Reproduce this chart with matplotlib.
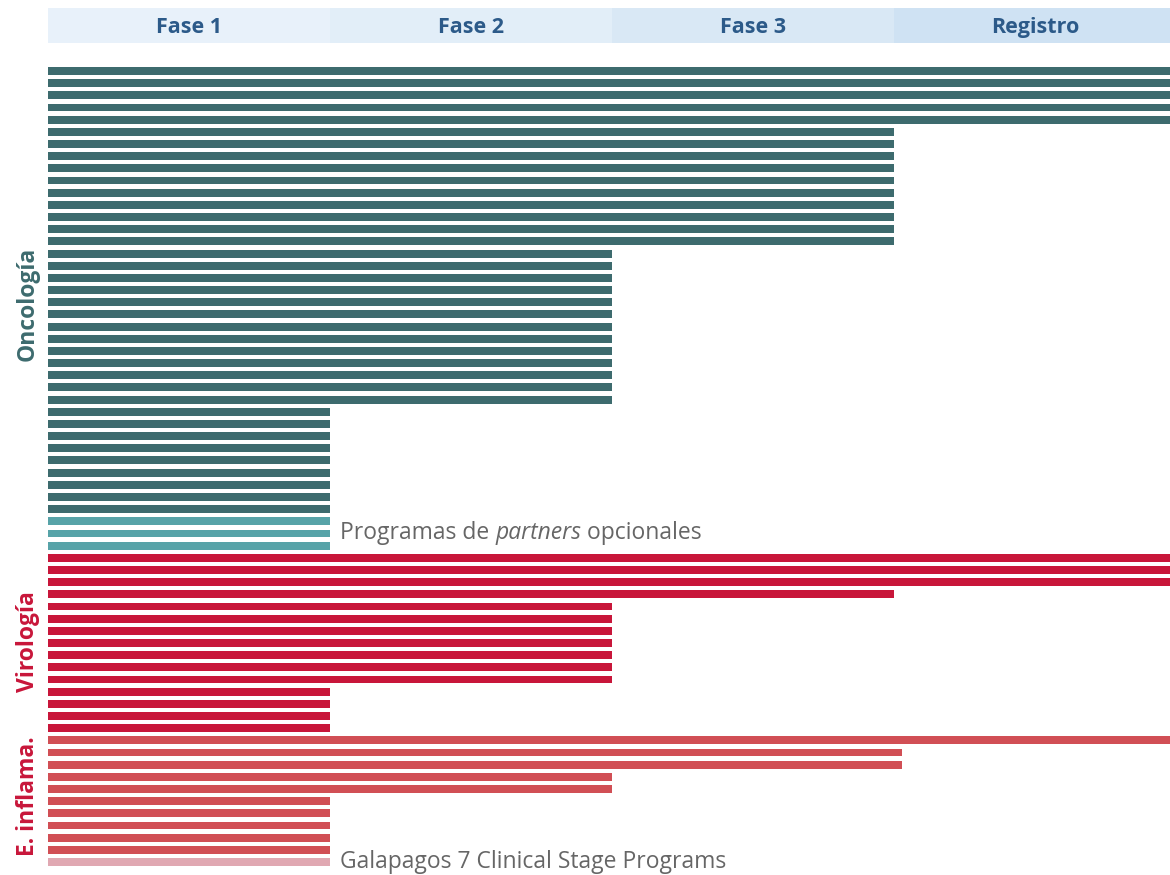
import matplotlib
matplotlib.use("Agg")
import matplotlib.pyplot as plt

# ---------------- data ----------------
phases = ["Fase 1", "Fase 2", "Fase 3", "Registro"]
phase_colors = ["#e8f1fa", "#e2eef8", "#d9e8f5", "#cfe2f3"]

# program progress (in phases) per therapeutic area, top to bottom
oncologia = [4, 4, 4, 4, 4,
             3, 3, 3, 3, 3, 3, 3, 3, 3, 3,
             2, 2, 2, 2, 2, 2, 2, 2, 2, 2, 2, 2, 2,
             1, 1, 1, 1, 1, 1, 1, 1, 1]
oncologia_partners = [1, 1, 1]
virologia = [4, 4, 4,
             3,
             2, 2, 2, 2, 2, 2, 2,
             1, 1, 1, 1]
inflamacion = [4,
               3.03, 3.03,
               2, 2,
               1, 1, 1, 1, 1]
galapagos = [1]

areas = ["Oncología", "Virología", "E. inflama."]
area_colors = ["#3d6b6e", "#c8163a", "#c8163a"]

annot_partners = ("Programas de ", "partners", " opcionales")
annot_galapagos = "Galapagos 7 Clinical Stage Programs"

# ---------------- style ----------------
FONT = "Open Sans"
col_onc = "#3d6b6e"
col_partner = "#57a3a8"
col_vir = "#c8163a"
col_inf = "#d14f55"
col_gal = "#e0a8b2"
header_text = "#2c5a89"
grey = "#666666"

W, H = 1170, 875
fig = plt.figure(figsize=(W / 100, H / 100), dpi=100)

x0 = 48
phase_w = 282
left = x0 / W
width = 4 * phase_w / W

# header axes
hax = fig.add_axes([left, (H - 43) / H, width, 35 / H])
for i, (p, c) in enumerate(zip(phases, phase_colors)):
    hax.bar(i, 1, width=1, align="edge", color=c, linewidth=0)
    hax.text(i + 0.5, 0.43, p, ha="center", va="center", color=header_text,
             fontsize=15.5, fontweight="bold", family=FONT)
hax.set_xlim(0, 4)
hax.set_ylim(0, 1)
hax.axis("off")

# main bars
series = [(oncologia, col_onc), (oncologia_partners, col_partner),
          (virologia, col_vir), (inflamacion, col_inf), (galapagos, col_gal)]
vals, cols = [], []
for s, c in series:
    vals += s
    cols += [c] * len(s)
n = len(vals)

step = 12.17
top_px = 71 - step * 0.5
bot_px = top_px + step * n
ax = fig.add_axes([left, (H - bot_px) / H, width, (bot_px - top_px) / H])
ypos = list(range(n))
ax.barh(ypos, vals, height=0.65, color=cols, linewidth=0)
ax.set_xlim(0, 4)
ax.set_ylim(n - 0.5, -0.5)
ax.axis("off")

# area labels
n_onc = len(oncologia) + len(oncologia_partners)
n_vir = len(virologia)
n_inf = len(inflamacion) + len(galapagos)
groups = [(0, n_onc), (n_onc, n_vir), (n_onc + n_vir, n_inf)]
offsets = [-0.4, -0.1, -0.4]
for (start, cnt), name, c, off in zip(groups, areas, area_colors, offsets):
    yc = start + (cnt - 1) / 2 + off
    ax.text(-20 / phase_w, yc, name, rotation=90, ha="center", va="center",
            color=c, fontsize=16.5, fontweight="bold", family=FONT,
            clip_on=False)

# annotations
tx = 1 + 10 / phase_w
ya = len(oncologia) + 1.0
fs = 16.5
t1 = ax.text(tx, ya, annot_partners[0], ha="left", va="center", color=grey,
             fontsize=fs, family=FONT)
t2 = ax.annotate(annot_partners[1], xy=(1, 0), xycoords=t1, ha="left",
                 va="bottom", color=grey, fontsize=fs, family=FONT,
                 style="italic")
ax.annotate(annot_partners[2], xy=(1, 0), xycoords=t2, ha="left",
            va="bottom", color=grey, fontsize=fs, family=FONT)

ax.text(tx, n - 1 + 0.02, annot_galapagos, ha="left", va="center",
        color=grey, fontsize=fs, family=FONT)

fig.savefig("out.png", dpi=100, facecolor="white")
